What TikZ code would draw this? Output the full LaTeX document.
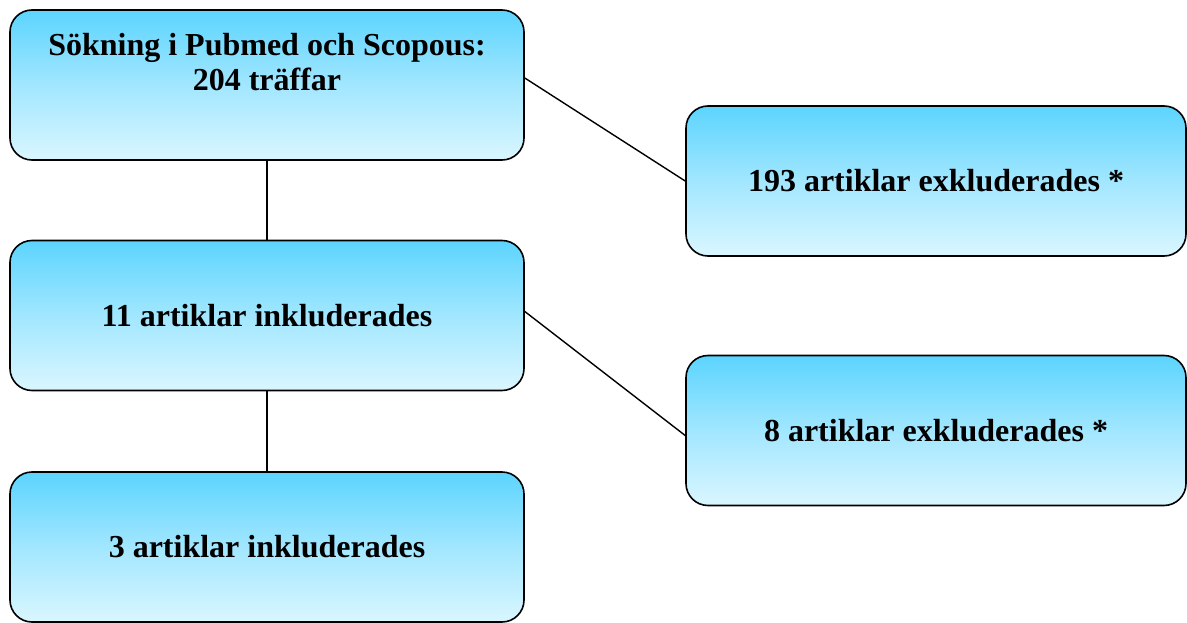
\documentclass[tikz,border=0pt]{standalone}
\usepackage{fontspec}
\setmainfont{Liberation Serif}
\usepackage{tikz}
\usetikzlibrary{positioning}
\definecolor{boxtop}{RGB}{92,212,254}
\definecolor{boxbot}{RGB}{218,246,255}

\begin{document}
\begin{tikzpicture}[x=1pt,y=-1pt,
  box/.style={draw=black,line width=1.6pt,rounded corners=22pt,
    top color=boxtop,bottom color=boxbot,middle color=boxtop!45!boxbot,
    minimum width=514pt,minimum height=150pt,align=center,
    font=\fontsize{32}{35}\selectfont\bfseries},
  sidebox/.style={box,minimum width=500pt},
  link/.style={line width=1.4pt}]
  \useasboundingbox (0,0) rectangle (1187,623);
  \node[box] (sok) at (267,85) {Sökning i Pubmed och Scopous:\\204 träffar\\\strut};
  \node[box] (inkl) at (267,315.5) {11 artiklar inkluderades};
  \node[box] (slut) at (267,547) {3 artiklar inkluderades};
  \node[sidebox] (exkl1) at (936,181) {193 artiklar exkluderades *};
  \node[sidebox] (exkl2) at (936,430.5) {8 artiklar exkluderades *};
  \draw[link] (sok) -- (inkl);
  \draw[link] (inkl) -- (slut);
  \draw[link] ([yshift=7pt]sok.east) -- (exkl1.west);
  \draw[link] ([yshift=4pt]inkl.east) -- ([yshift=-5pt]exkl2.west);
\end{tikzpicture}
\end{document}
